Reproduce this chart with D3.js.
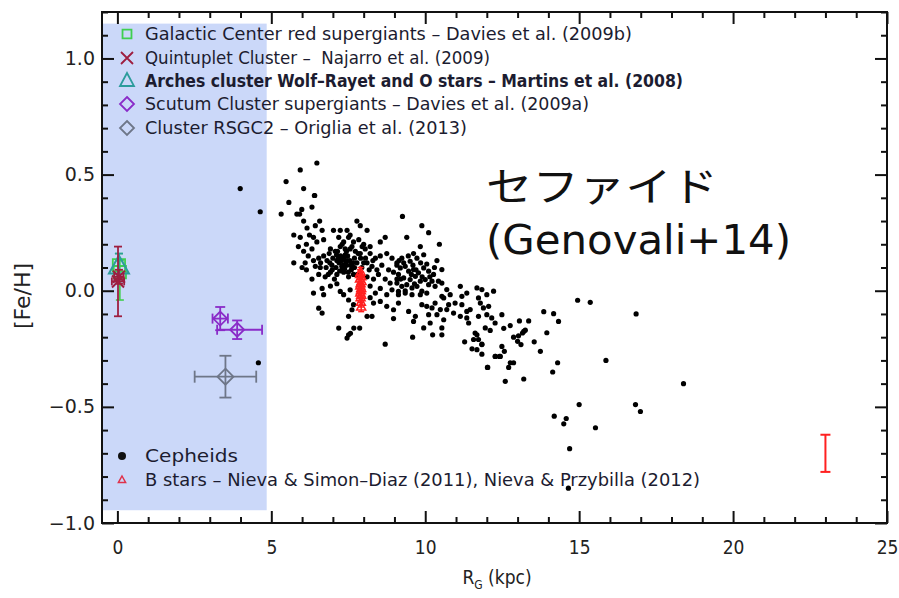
<!DOCTYPE html>
<html><head><meta charset="utf-8">
<script src="https://cdn.jsdelivr.net/npm/d3@7"></script>
<style>body{margin:0;background:#fff}svg{display:block}</style>
</head><body>
<svg id="c" width="899" height="598"></svg>
<script>
// ---------------- DATA ----------------
const xTicksMajor = [0, 5, 10, 15, 20, 25];
const yTicksMajor = [-1.0, -0.5, 0.0, 0.5, 1.0];
const xLabel = "R";
const xLabelSub = "G";
const xLabelUnit = " (kpc)";
const yLabel = "[Fe/H]";
const annotationLines = ["セファイド", "(Genovali+14)"];

// shaded inner-Galaxy region [R max, FeH top, FeH bottom]
const innerRegion = [4.85, 1.15, -0.945];

// Cepheids (Genovali+14): [R_G kpc, [Fe/H]]
const cepheids = [
[6.48,0.55],[5.94,0.52],[5.48,0.47],[6.05,0.44],[6.41,0.41],[5.57,0.38],[5.32,0.33],[3.99,0.44],[4.64,0.34],[4.58,-0.31],
[6.40,0.41],[5.83,0.33],[5.99,0.35],[5.92,0.33],[6.32,0.36],[6.05,0.30],[6.57,0.30],[6.16,0.27],[6.43,0.28],[6.65,0.26],[5.73,0.24],[5.94,0.23],[6.24,0.24],[6.37,0.23],[6.48,0.21],[6.70,0.22],[6.14,0.20],[6.32,0.18],[6.05,0.17],[7.02,0.26],[7.24,0.26],[7.46,0.26],[7.56,0.24],[7.78,0.30],[7.89,0.28],[8.11,0.26],[7.19,0.23],[7.35,0.21],[7.51,0.23],[7.67,0.21],[7.84,0.22],[8.00,0.20],[8.21,0.19],[8.54,0.21],[8.70,0.23],[6.92,0.18],[7.08,0.17],[7.24,0.19],[7.40,0.18],[7.56,0.18],[7.73,0.17],[7.89,0.16],[8.05,0.18],[8.21,0.16],[8.38,0.14],[8.54,0.15],[8.75,0.16],[8.92,0.14],[9.08,0.12],[5.73,0.12],[6.10,0.12],[6.37,0.13],[6.54,0.14],[6.70,0.15],[6.43,0.105],[6.59,0.10],[6.81,0.13],[6.97,0.11],[7.13,0.13],[7.29,0.105],[7.46,0.13],[7.62,0.105],[7.78,0.12],[7.94,0.10],[8.11,0.12],[8.27,0.105],[8.43,0.09],[8.59,0.11],[8.81,0.09],[8.97,0.08],[6.14,0.09],[6.32,0.05],[6.54,0.07],[6.75,0.06],[6.92,0.08],[7.13,0.07],[7.35,0.08],[7.51,0.06],[7.67,0.07],[8.11,0.06],[8.32,0.05],[8.48,0.07],[8.70,0.05],[8.86,0.033],[9.08,0.05],[6.65,0.01],[6.70,-0.017],[6.92,0.02],[7.13,0.03],[7.24,-0.003],[7.35,-0.017],[7.56,0.004],[8.21,0.02],[8.38,-0.01],[8.54,0.01],[8.75,-0.017],[8.92,0.004],[9.13,-0.003],[6.37,-0.01],[7.51,-0.04],[7.67,-0.06],[8.21,-0.03],[8.32,-0.053],[8.54,-0.046],[8.75,-0.067],[8.97,-0.082],[6.54,-0.075],[6.65,-0.096],[7.62,-0.082],
[7.2,0.12],[7.35,0.14],[7.45,0.11],[7.3,0.09],[7.55,0.13],[7.4,0.155],[7.1,0.1],[7.6,0.09],[7.25,0.15],[7.5,0.08],[7.65,0.12],[7.0,0.14],[6.9,0.12],[7.15,0.17],[7.7,0.14],[6.85,0.07],[7.05,0.05],[7.8,0.07],[7.9,0.14],[8.0,0.12],
[7.28,0.13],[7.42,0.125],[7.33,0.11],[7.18,0.14],[7.48,0.15],[7.38,0.095],[7.22,0.085],[7.58,0.11],[7.12,0.155],[7.44,0.17],[6.98,0.09],[7.7,0.1],[7.82,0.16],[8.06,0.14],[8.18,0.09],[8.3,0.13],[6.78,0.1],[6.6,0.12],[6.88,0.16],[7.3,0.2],[7.62,0.19],[7.95,0.19],[6.2,0.15],[6.0,0.1],[5.88,0.19],
[9.26,0.32],[9.89,0.28],[10.11,0.25],[9.40,0.23],[10.46,0.20],[9.84,0.19],[9.62,0.16],[9.95,0.155],[9.24,0.14],[9.51,0.127],[9.73,0.14],[10.05,0.115],[10.38,0.13],[9.08,0.11],[9.19,0.098],[9.35,0.105],[9.46,0.084],[9.62,0.091],[9.78,0.077],[9.95,0.098],[10.11,0.084],[10.27,0.07],[10.54,0.091],[9.13,0.07],[9.30,0.055],[9.51,0.048],[9.68,0.062],[9.84,0.041],[10.00,0.048],[10.22,0.041],[10.43,0.041],[9.08,0.033],[9.24,0.019],[9.40,0.026],[9.57,0.012],[9.73,0.019],[9.89,-0.002],[10.11,0.026],[10.32,0.019],[10.54,0.033],[10.70,0.005],[9.13,-0.017],[9.35,-0.01],[9.57,-0.017],[9.84,-0.017],[10.05,-0.01],[10.54,-0.024],[10.81,-0.017],[11.14,0.019],[11.35,-0.01],[11.68,0.012],[11.84,0.005],[12.00,-0.017],[12.22,-0.002],[11.19,-0.024],[10.97,-0.053],[10.76,-0.06],[10.60,-0.031],[10.32,-0.053],[9.89,-0.06],[10.05,-0.067],[10.22,-0.074],[10.49,-0.081],[10.70,-0.081],[10.92,-0.096],[11.19,-0.06],[11.35,-0.089],[11.46,-0.081],[11.73,-0.031],[11.79,-0.053],[11.89,-0.074],[12.06,-0.067],[9.13,-0.053],[9.46,-0.089],[9.68,-0.11],[9.62,-0.132],[10.11,-0.103],[10.38,-0.103],[10.16,-0.139],[10.60,-0.125],[10.54,-0.16],[11.14,-0.11],[11.35,-0.117],[11.41,-0.139],[11.73,-0.11],[12.00,-0.103],[12.16,-0.117],[12.27,-0.139],[12.49,-0.103],[9.95,-0.16],[11.62,-0.182],[11.95,-0.16],
[9.3,0.12],[9.45,0.15],[9.6,0.11],[9.7,0.09],[9.85,0.12],[9.2,0.05],[9.55,0.07],[9.9,0.06],[10.15,0.06],[9.35,0.0],[9.65,0.03],[9.15,0.13],[10.3,0.1],
[7.19,-0.161],[7.46,-0.204],[7.51,-0.19],[7.57,-0.183],[7.68,-0.161],[7.87,-0.161],[7.51,-0.11],[8.11,-0.11],[8.27,-0.11],[8.97,-0.12],[8.70,-0.23],[9.59,-0.20],[10.24,-0.19],[10.54,-0.19],[11.28,-0.22],[11.52,-0.25],[11.57,-0.21],[11.73,-0.21],[11.68,-0.254],[11.84,-0.23],[11.84,-0.273],[12.02,-0.33],[12.27,-0.283],[12.41,-0.283],[11.68,-0.19],
[12.55,-0.162],[12.11,-0.171],[12.76,-0.15],[13.06,-0.13],[13.36,-0.13],[13.85,-0.09],[14.17,-0.099],[14.33,-0.132],[13.95,-0.181],[13.20,-0.175],[13.25,-0.17],[13.16,-0.182],[13.03,-0.194],[12.87,-0.20],[13.00,-0.218],[13.11,-0.232],[13.54,-0.22],[12.49,-0.24],[12.57,-0.261],[12.28,-0.283],[12.44,-0.283],[13.74,-0.261],[11.84,-0.232],[12.03,-0.33],[12.71,-0.33],[12.76,-0.31],[12.87,-0.31],[12.60,-0.39],[13.20,-0.38],[14.30,-0.31],[14.14,-0.35],[14.95,-0.041],[15.36,-0.05],[16.85,-0.10],[15.87,-0.30],[18.39,-0.40],[15.00,-0.49],[16.83,-0.49],[16.99,-0.52],[14.19,-0.54],[14.58,-0.55],[14.50,-0.573],[15.53,-0.59],[14.69,-0.68],[14.65,-0.85]
];

// B stars (Nieva & Simon-Diaz 2011, Nieva & Przybilla 2012)
const bStarsR   = [7.90, 7.92, 7.88, 7.93, 7.90, 7.89, 7.92, 7.91, 7.89, 7.92, 7.90, 7.88, 7.91, 7.92];
const bStarsFeH = [0.08, 0.06, 0.05, 0.04, 0.03, 0.02, 0.01, 0.00, -0.01, -0.02, -0.03, 0.07, -0.05, -0.07];
// representative B-star error bar [R, FeH, err]
const bStarErr = [23.0, -0.70, 0.08];

// clusters: R, FeH, xErrLow, xErrHigh, yErrLow, yErrHigh
const galacticCenterRSG = [
  {R: 0.05, FeH: 0.11, xl: 0.0, xh: 0.0, yl: 0.05, yh: 0.05},
  {R: 0.08, FeH: 0.08, xl: 0.0, xh: 0.0, yl: 0.12, yh: 0.05}
];
const quintuplet = [
  {R: 0.02, FeH: 0.04, xl: 0.20, xh: 0.20, yl: 0.15, yh: 0.15},
  {R: 0.05, FeH: 0.06, xl: 0.15, xh: 0.15, yl: 0.03, yh: 0.03}
];
const arches = [
  {R: 0.05, FeH: 0.10, xl: 0.0, xh: 0.0, yl: 0.06, yh: 0.06}
];
const scutum = [
  {R: 3.34, FeH: -0.12, xl: 0.25, xh: 0.25, yl: 0.05, yh: 0.05},
  {R: 3.89, FeH: -0.168, xl: 0.65, xh: 0.81, yl: 0.04, yh: 0.04}
];
const rsgc2 = [
  {R: 3.51, FeH: -0.37, xl: 1.0, xh: 1.0, yl: 0.09, yh: 0.09}
];

const legendTop = [
  "Galactic Center red supergiants – Davies et al. (2009b)",
  "Quintuplet Cluster –\u00a0 Najarro et al. (2009)",
  "Arches cluster Wolf–Rayet and O stars – Martins et al. (2008)",
  "Scutum Cluster supergiants – Davies et al. (2009a)",
  "Cluster RSGC2 – Origlia et al. (2013)"
];
const legendBottom = [
  "Cepheids",
  "B stars – Nieva & Simon–Diaz (2011), Nieva & Przybilla (2012)"
];

// ---------------- STYLE ----------------
const colors = {gc: "#3fcf4f", qu: "#9e1e40", ar: "#2c9c9c", sc: "#8a2bc8", rs: "#6e7688", bs: "#ff2020", ce: "#000"};
const legendTextWidths = [487, 345, 538, 444, 322];

const svg = d3.select("#c");
const x = d3.scaleLinear().domain([-0.5, 25]).range([102, 887]);
const y = d3.scaleLinear().domain([-1.0, 1.2]).range([523, 12]);

// shaded region
svg.append("rect")
  .attr("x", x(-0.5)).attr("y", y(innerRegion[1]))
  .attr("width", x(innerRegion[0]) - x(-0.5))
  .attr("height", y(innerRegion[2]) - y(innerRegion[1]))
  .attr("fill", "#cbd8f9");

// axes
const xMinor = d3.range(0, 26, 1).filter(v => v % 5 !== 0);
const yMinor = d3.range(-10, 13, 1).map(v => v / 10).filter(v => Math.abs(v * 2 - Math.round(v * 2)) > 1e-6);

function styleAxis(g) {
  g.select(".domain").remove();
  g.selectAll(".tick line").attr("stroke", "#111").attr("stroke-width", 2);
}
const tickFont = "'DejaVu Sans', sans-serif";

// bottom
svg.append("g").attr("transform", `translate(0,${y(-1.0)})`)
  .call(d3.axisBottom(x).tickValues(xMinor).tickSize(-6).tickFormat("")).call(styleAxis);
const xb = svg.append("g").attr("transform", `translate(0,${y(-1.0)})`)
  .call(d3.axisBottom(x).tickValues(xTicksMajor).tickSize(-12).tickPadding(18).tickFormat(d3.format("d")));
styleAxis(xb);
xb.selectAll("text").attr("font-family", "'DejaVu Sans Condensed','DejaVu Sans',sans-serif").attr("font-size", 19).attr("fill", "#222");
// top
svg.append("g").attr("transform", `translate(0,${y(1.2)})`)
  .call(d3.axisTop(x).tickValues(xMinor).tickSize(-6).tickFormat("")).call(styleAxis);
svg.append("g").attr("transform", `translate(0,${y(1.2)})`)
  .call(d3.axisTop(x).tickValues(xTicksMajor).tickSize(-12).tickFormat("")).call(styleAxis);
// left
svg.append("g").attr("transform", `translate(${x(-0.5)},0)`)
  .call(d3.axisLeft(y).tickValues(yMinor).tickSize(-6).tickFormat("")).call(styleAxis);
const yl = svg.append("g").attr("transform", `translate(${x(-0.5)},0)`)
  .call(d3.axisLeft(y).tickValues(yTicksMajor).tickSize(-12).tickPadding(7).tickFormat(d => d3.format(".1f")(d).replace("-", "−")));
styleAxis(yl);
yl.selectAll("text").attr("font-family", tickFont).attr("font-size", 19).attr("fill", "#222");
// right
svg.append("g").attr("transform", `translate(${x(25)},0)`)
  .call(d3.axisRight(y).tickValues(yMinor).tickSize(-6).tickFormat("")).call(styleAxis);
svg.append("g").attr("transform", `translate(${x(25)},0)`)
  .call(d3.axisRight(y).tickValues(yTicksMajor).tickSize(-12).tickFormat("")).call(styleAxis);

// frame
svg.append("rect").attr("x", x(-0.5)).attr("y", y(1.2))
  .attr("width", x(25) - x(-0.5)).attr("height", y(-1.0) - y(1.2))
  .attr("fill", "none").attr("stroke", "#111").attr("stroke-width", 2);

// axis labels
const xl = svg.append("text").attr("x", 497).attr("y", 584).attr("text-anchor", "middle")
  .attr("font-family", "'DejaVu Sans Condensed','DejaVu Sans',sans-serif").attr("font-size", 19).attr("fill", "#222");
xl.append("tspan").text(xLabel);
xl.append("tspan").attr("font-size", 12).attr("dy", 5).text(xLabelSub);
xl.append("tspan").attr("dy", -5).text(xLabelUnit);

svg.append("text").attr("transform", "translate(30,296) rotate(-90)").attr("text-anchor", "middle")
  .attr("font-family", tickFont).attr("font-size", 22).attr("fill", "#222").text(yLabel);

// ---------------- MARKS ----------------
// cepheids
svg.append("g").selectAll("circle").data(cepheids).join("circle")
  .attr("cx", d => x(d[0])).attr("cy", d => y(d[1])).attr("r", 2.6).attr("fill", colors.ce);

// error bars helper
function errBars(g, data, color, cap, sw) {
  data.forEach(d => {
    if (d.yl || d.yh) {
      g.append("line").attr("x1", x(d.R)).attr("x2", x(d.R)).attr("y1", y(d.FeH - d.yl)).attr("y2", y(d.FeH + d.yh));
      [d.FeH - d.yl, d.FeH + d.yh].forEach(v => g.append("line").attr("x1", x(d.R) - cap).attr("x2", x(d.R) + cap).attr("y1", y(v)).attr("y2", y(v)));
    }
    if (d.xl || d.xh) {
      g.append("line").attr("y1", y(d.FeH)).attr("y2", y(d.FeH)).attr("x1", x(d.R - d.xl)).attr("x2", x(d.R + d.xh));
      [d.R - d.xl, d.R + d.xh].forEach(v => g.append("line").attr("y1", y(d.FeH) - cap).attr("y2", y(d.FeH) + cap).attr("x1", x(v)).attr("x2", x(v)));
    }
  });
  g.attr("stroke", color).attr("stroke-width", sw);
}
const sq = d3.symbol().type(d3.symbolSquare);
const dia = d => `M0,${-d}L${d},0L0,${d}L${-d},0Z`;
const cross = d => `M${-d},${-d}L${d},${d}M${-d},${d}L${d},${-d}`;

function markers(data, color, pathFn, sw) {
  svg.append("g").selectAll("path").data(data).join("path")
    .attr("transform", d => `translate(${x(d.R)},${y(d.FeH)})`)
    .attr("d", pathFn).attr("fill", "none").attr("stroke", color).attr("stroke-width", sw);
}

errBars(svg.append("g"), galacticCenterRSG, colors.gc, 4, 1.6);
markers(galacticCenterRSG, colors.gc, () => sq.size(150)(), 1.8);
errBars(svg.append("g"), arches, colors.ar, 4, 1.6);
markers(arches, colors.ar, () => "M0,-12L10,6L-10,6Z", 2);
errBars(svg.append("g"), quintuplet, colors.qu, 4, 1.8);
markers(quintuplet, colors.qu, () => cross(6), 2);

errBars(svg.append("g"), scutum, colors.sc, 5, 1.8);
markers(scutum, colors.sc, () => dia(7), 1.8);
errBars(svg.append("g"), rsgc2, colors.rs, 6, 1.8);
markers(rsgc2, colors.rs, () => dia(8), 1.8);

// B stars
const bData = bStarsR.map((r, i) => ({R: r, FeH: bStarsFeH[i], xl: 0, xh: 0, yl: 0.02, yh: 0.02}));
errBars(svg.append("g"), bData, colors.bs, 3, 1.5);
markers(bData, colors.bs, () => "M0,-5L4.5,3L-4.5,3Z", 1.5);

// representative error bar
errBars(svg.append("g"), [{R: bStarErr[0], FeH: bStarErr[1], xl: 0, xh: 0, yl: bStarErr[2], yh: bStarErr[2]}], colors.bs, 5, 2);

// ---------------- LEGENDS ----------------
const legFont = "'DejaVu Sans Condensed','DejaVu Sans',sans-serif";
const legY = [40, 64, 87, 110, 134];
const legSym = [
  g => g.append("path").attr("d", sq.size(80)()).attr("stroke", colors.gc),
  g => g.append("path").attr("d", cross(6)).attr("stroke", colors.qu),
  g => g.append("path").attr("d", "M0,-8L7,5L-7,5Z").attr("stroke", colors.ar),
  g => g.append("path").attr("d", dia(7)).attr("stroke", colors.sc),
  g => g.append("path").attr("d", dia(7)).attr("stroke", colors.rs)
];
legendTop.forEach((t, i) => {
  const g = svg.append("g").attr("transform", `translate(127,${legY[i] - 6})`);
  legSym[i](g).attr("fill", "none").attr("stroke-width", 1.8);
  svg.append("text").attr("x", 145).attr("y", legY[i])
    .attr("font-family", legFont).attr("font-size", 18)
    .attr("font-weight", i === 2 ? "bold" : "normal")
    .attr("textLength", legendTextWidths[i]).attr("lengthAdjust", "spacingAndGlyphs")
    .attr("fill", "#1c1c30").text(t);
});
const legBY = [462, 486];
svg.append("circle").attr("cx", 122).attr("cy", legBY[0] - 6).attr("r", 4).attr("fill", "#111");
svg.append("path").attr("transform", `translate(122,${legBY[1] - 6})`).attr("d", "M0,-4L3.6,2.5L-3.6,2.5Z")
  .attr("fill", "none").attr("stroke", "#e0304a").attr("stroke-width", 1.5);
const legBW = [93, 555];
legendBottom.forEach((t, i) => {
  svg.append("text").attr("x", 145).attr("y", legBY[i])
    .attr("font-family", legFont).attr("font-size", 18)
    .attr("textLength", legBW[i]).attr("lengthAdjust", "spacingAndGlyphs")
    .attr("fill", "#1c1c30").text(t);
});

// annotation
svg.append("text").attr("font-family", "'Noto Sans CJK JP', sans-serif").attr("font-size", 40).attr("fill", "#111")
  .attr("x", 486).attr("y", 201).attr("textLength", 232).attr("lengthAdjust", "spacingAndGlyphs").text(annotationLines[0]);
svg.append("text").attr("font-family", "'DejaVu Sans', sans-serif").attr("font-size", 40).attr("fill", "#111")
  .attr("x", 486).attr("y", 254).attr("textLength", 305).attr("lengthAdjust", "spacingAndGlyphs").text(annotationLines[1]);
</script>
</body></html>
